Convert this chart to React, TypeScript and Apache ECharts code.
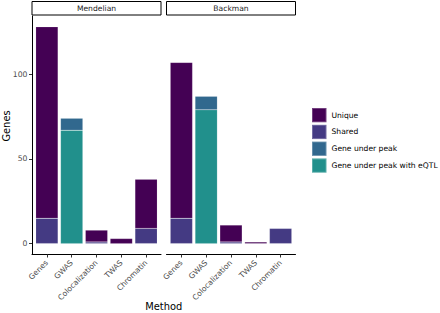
import React, { useEffect, useRef } from "react";
import * as echarts from "echarts";

const methods = ["Genes", "GWAS", "Colocalization", "TWAS", "Chromatin"];
const panels = ["Mendelian", "Backman"];
const groups = ["Unique", "Shared", "Gene under peak", "Gene under peak with eQTL"];
const groupColors = ["#440154", "#443A83", "#31688E", "#21908C"];

const mendelianUnique = [113, 0, 7, 3, 29];
const mendelianShared = [15, 0, 1, 0, 9];
const mendelianGeneUnderPeak = [0, 7, 0, 0, 0];
const mendelianEqtl = [0, 67, 0, 0, 0];

const backmanUnique = [92, 0, 10, 1, 0];
const backmanShared = [15, 0, 1, 0, 9];
const backmanGeneUnderPeak = [0, 8, 0, 0, 0];
const backmanEqtl = [0, 79, 0, 0, 0];

const yTicks = [0, 50, 100];

const FONT = "DejaVu Sans";

export default function App() {
  const ref = useRef<HTMLDivElement>(null);
  useEffect(() => {
    if (!ref.current) return;
    const chart = echarts.init(ref.current, undefined, { renderer: "svg" });

    const panelData = [
      { Unique: mendelianUnique, Shared: mendelianShared, "Gene under peak": mendelianGeneUnderPeak, "Gene under peak with eQTL": mendelianEqtl },
      { Unique: backmanUnique, Shared: backmanShared, "Gene under peak": backmanGeneUnderPeak, "Gene under peak with eQTL": backmanEqtl },
    ];
    const stackOrder = ["Shared", "Gene under peak with eQTL", "Gene under peak", "Unique"];

    const allVals: number[] = [];
    panelData.forEach((pd: any) => {
      methods.forEach((_, i) => {
        let s = 0;
        groups.forEach((g) => (s += pd[g][i]));
        allVals.push(s);
      });
    });
    const maxV = Math.max(...allVals);
    const yMin = -0.05 * maxV;
    const yMax = maxV * 1.05;

    const gridLefts = [32, 166.5];
    const gridW = 129;
    const gridTop = 16;
    const gridH = 238.5;
    const xMin = 0.4;
    const xMax = methods.length + 0.6;
    const unit = gridW / (xMax - xMin);

    // grids 0,1: axes frames (full panel); grids 2,3: bar areas (inset by ggplot discrete expansion)
    const grids: any[] = [];
    gridLefts.forEach((l) => grids.push({ left: l, top: gridTop, width: gridW, height: gridH }));
    gridLefts.forEach((l) =>
      grids.push({ left: l + (0.5 - xMin) * unit, top: gridTop, width: methods.length * unit, height: gridH })
    );

    const xAxes: any[] = [];
    const yAxes: any[] = [];
    gridLefts.forEach((_, pi) => {
      xAxes.push({
        type: "value",
        gridIndex: pi,
        min: xMin,
        max: xMax,
        splitLine: { show: false },
        axisLine: { show: true, onZero: false, lineStyle: { color: "#000000", width: 1 } },
        axisTick: { show: true, length: 3, customValues: methods.map((_, i) => i + 1), lineStyle: { color: "#333333", width: 1 } },
        axisLabel: {
          show: true,
          customValues: methods.map((_, i) => i + 1),
          formatter: (v: number) => methods[Math.round(v) - 1] ?? "",
          rotate: 45,
          margin: 7,
          color: "#4D4D4D",
          fontSize: 7.6,
          fontFamily: FONT,
        },
      });
      yAxes.push({
        type: "value",
        gridIndex: pi,
        min: yMin,
        max: yMax,
        splitLine: { show: false },
        axisLine: { show: pi === 0, onZero: false, lineStyle: { color: "#000000", width: 1 } },
        axisTick: { show: pi === 0, length: 3, customValues: yTicks, lineStyle: { color: "#333333", width: 1 } },
        axisLabel: {
          show: pi === 0,
          customValues: yTicks,
          margin: 4.5,
          color: "#4D4D4D",
          fontSize: 7.7,
          fontFamily: FONT,
        },
      });
    });
    gridLefts.forEach((_, pi) => {
      xAxes.push({
        type: "category",
        gridIndex: pi + 2,
        data: methods,
        show: false,
      });
      yAxes.push({
        type: "value",
        gridIndex: pi + 2,
        min: yMin,
        max: yMax,
        show: false,
        splitLine: { show: false },
      });
    });

    const series: any[] = [];
    panelData.forEach((pd: any, pi) => {
      stackOrder.forEach((g) => {
        series.push({
          type: "bar",
          name: g,
          xAxisIndex: pi + 2,
          yAxisIndex: pi + 2,
          stack: "p" + pi,
          barWidth: "90%",
          itemStyle: {
            color: groupColors[groups.indexOf(g)],
            borderColor: "rgba(255,255,255,0.25)",
            borderWidth: 0.5,
          },
          data: pd[g].map((v: number) => (v === 0 ? "-" : v)),
        });
      });
    });

    const graphics: any[] = [];
    panels.forEach((p, pi) => {
      graphics.push({
        type: "rect",
        shape: { x: gridLefts[pi], y: 1.5, width: gridW, height: 13.5 },
        style: { fill: "#ffffff", stroke: "#000000", lineWidth: 1 },
      });
      graphics.push({
        type: "text",
        style: {
          text: p,
          x: gridLefts[pi] + gridW / 2,
          y: 8.5,
          fill: "#1A1A1A",
          font: `7.6px "${FONT}"`,
          textAlign: "center",
          textVerticalAlign: "middle",
        },
      });
    });
    graphics.push({
      type: "text",
      x: 6,
      y: 126,
      rotation: Math.PI / 2,
      style: {
        text: "Genes",
        x: 0,
        y: 0,
        fill: "#000000",
        font: `9.9px "${FONT}"`,
        textAlign: "center",
        textVerticalAlign: "middle",
      },
    });
    graphics.push({
      type: "text",
      style: {
        text: "Method",
        x: (gridLefts[0] + gridLefts[1] + gridW) / 2,
        y: 306,
        fill: "#000000",
        font: `9.9px "${FONT}"`,
        textAlign: "center",
        textVerticalAlign: "middle",
      },
    });

    chart.setOption({
      animation: false,
      textStyle: { fontFamily: FONT },
      grid: grids,
      xAxis: xAxes,
      yAxis: yAxes,
      legend: {
        data: groups,
        orient: "vertical",
        left: 311,
        top: 107,
        itemWidth: 14.5,
        itemHeight: 14.3,
        itemGap: 0.5,
        icon: "rect",
        padding: 0,
        selectedMode: false,
        textStyle: { fontSize: 7.6, color: "#000000", fontFamily: FONT },
      },
      graphic: graphics,
      series,
    });

    return () => chart.dispose();
  }, []);

  return (
    <div
      ref={ref}
      style={{ position: "fixed", left: 0, top: 0, width: 440, height: 313, background: "#ffffff" }}
    />
  );
}
